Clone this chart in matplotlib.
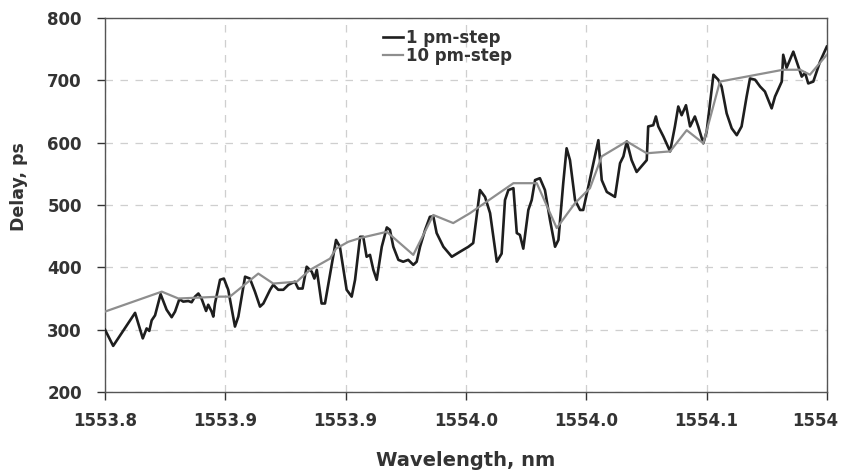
import matplotlib
matplotlib.use("Agg")
import matplotlib.pyplot as plt
import matplotlib.transforms as mtransforms

plt.rcParams['font.family'] = ['DejaVu Sans']

# 1 pm-step measurement (wavelength nm, delay ps)
wl_1pm = [1553.8000, 1553.8034, 1553.8125, 1553.8157, 1553.8173, 1553.8184, 1553.8194,
          1553.8208, 1553.8231, 1553.8256, 1553.8277, 1553.8291, 1553.8309, 1553.8325,
          1553.8346, 1553.8360, 1553.8374, 1553.8388, 1553.8402, 1553.8420, 1553.8429,
          1553.8443, 1553.8450, 1553.8457, 1553.8478, 1553.8494, 1553.8512, 1553.8540,
          1553.8554, 1553.8582, 1553.8602, 1553.8623, 1553.8644, 1553.8658, 1553.8686,
          1553.8699, 1553.8720, 1553.8741, 1553.8762, 1553.8789, 1553.8803, 1553.8821,
          1553.8838, 1553.8859, 1553.8870, 1553.8880, 1553.8900, 1553.8914, 1553.8942,
          1553.8960, 1553.8976, 1553.9004, 1553.9025, 1553.9039, 1553.9060, 1553.9073,
          1553.9087, 1553.9101, 1553.9115, 1553.9129, 1553.9150, 1553.9171, 1553.9184,
          1553.9198, 1553.9219, 1553.9239, 1553.9260, 1553.9281, 1553.9295, 1553.9309,
          1553.9330, 1553.9350, 1553.9364, 1553.9378, 1553.9406, 1553.9441, 1553.9475,
          1553.9510, 1553.9530, 1553.9558, 1553.9579, 1553.9600, 1553.9628, 1553.9648,
          1553.9662, 1553.9676, 1553.9697, 1553.9711, 1553.9724, 1553.9738, 1553.9759,
          1553.9773, 1553.9787, 1553.9807, 1553.9828, 1553.9849, 1553.9870, 1553.9884,
          1553.9904, 1553.9918, 1553.9932, 1553.9953, 1553.9974, 1553.9987, 1554.0008,
          1554.0050, 1554.0064, 1554.0085, 1554.0119, 1554.0140, 1554.0154, 1554.0168,
          1554.0188, 1554.0209, 1554.0251, 1554.0257, 1554.0278, 1554.0289, 1554.0299,
          1554.0320, 1554.0348, 1554.0368, 1554.0382, 1554.0396, 1554.0414, 1554.0431,
          1554.0451, 1554.0465, 1554.0486, 1554.0500, 1554.0528, 1554.0548, 1554.0562,
          1554.0583, 1554.0604, 1554.0625, 1554.0645, 1554.0666, 1554.0680, 1554.0701,
          1554.0722, 1554.0742, 1554.0770, 1554.0784, 1554.0812, 1554.0818, 1554.0832,
          1554.0860, 1554.0895, 1554.0909, 1554.0922, 1554.0943, 1554.0971, 1554.0999]
delay_1pm = [300, 274, 327, 286, 302, 298, 315,
             323, 357, 332, 320, 329, 349, 345,
             346, 344, 353, 358, 349, 330, 340,
             329, 321, 342, 380, 382, 364, 305,
             321, 385, 382, 361, 337, 342, 364,
             372, 364, 364, 372, 377, 366, 366,
             401, 393, 382, 396, 342, 342, 404,
             444, 433, 364, 353, 380, 449, 449,
             417, 420, 396, 380, 433, 464, 460,
             433, 412, 409, 412, 404, 409, 433,
             460, 481, 482, 455, 433, 417, 425,
             433, 439, 524, 513, 487, 409, 422,
             508, 524, 527, 455, 452, 430, 492,
             508, 540, 543, 524, 476, 433, 444,
             535, 591, 572, 508, 492, 492, 529,
             604, 540, 521, 513, 567, 578, 602,
             572, 553, 572, 626, 628, 642, 626,
             610, 586, 626, 658, 644, 660, 626,
             642, 626, 599, 618, 709, 701, 690,
             647, 623, 612, 626, 674, 703, 701,
             690, 682, 655, 674, 698, 741, 720,
             746, 706, 712, 695, 698, 730, 754]

# 10 pm-step measurement
wl_10pm = [1553.8000, 1553.8236, 1553.8305, 1553.8478, 1553.8519, 1553.8637, 1553.8699,
           1553.8797, 1553.8852, 1553.8935, 1553.8960, 1553.9011, 1553.9060, 1553.9171,
           1553.9281, 1553.9364, 1553.9447, 1553.9517, 1553.9697, 1553.9794, 1553.9877,
           1553.9953, 1554.0015, 1554.0064, 1554.0168, 1554.0251, 1554.0348, 1554.0417,
           1554.0486, 1554.0555, 1554.0818, 1554.0888, 1554.0929, 1554.0999]
delay_10pm = [329, 361, 350, 353, 353, 390, 374,
              377, 396, 414, 430, 441, 447, 457,
              420, 484, 471, 487, 535, 535, 463,
              503, 527, 578, 602, 583, 586, 620,
              599, 698, 717, 717, 709, 741]

x_ticks = [1553.80, 1553.85, 1553.90, 1553.95, 1554.00, 1554.05, 1554.10]
x_tick_labels = ["1553.8", "1553.9", "1553.9", "1554.0", "1554.0", "1554.1", "1554"]
y_ticks = [200, 300, 400, 500, 600, 700, 800]

fig = plt.figure(figsize=(8.42, 4.71), dpi=100)
ax = fig.add_axes([0.1247, 0.1677, 0.8575, 0.7941])

ax.plot(wl_1pm, delay_1pm, color='#1e1e1e', lw=1.9, label='1 pm-step', zorder=3)
ax.plot(wl_10pm, delay_10pm, color='#8e8e8e', lw=1.6, label='10 pm-step', zorder=4)

ax.set_xlim(1553.80, 1554.10)
ax.set_ylim(200, 800)
ax.set_xticks(x_ticks)
ax.set_xticklabels(x_tick_labels)
ax.set_yticks(y_ticks)
ax.tick_params(axis='both', direction='out', length=5.8, width=1, labelsize=12,
               colors='#333333')
ax.tick_params(axis='x', pad=8.6)
ax.tick_params(axis='y', pad=10.8)
for lab in ax.get_xticklabels() + ax.get_yticklabels():
    lab.set_fontweight('bold')
    lab.set_color('#333333')
# last x label sits a little left of its tick, as in the reference
last = ax.get_xticklabels()[-1]
last.set_transform(last.get_transform() +
                   mtransforms.ScaledTranslation(-11.5 / 100, 0, fig.dpi_scale_trans))

ax.grid(True, color='#cfcfcf', linestyle=(0, (6, 6)), linewidth=0.9)
ax.set_axisbelow(True)
for s in ax.spines.values():
    s.set_color('#555555')
    s.set_linewidth(1.0)

ax.set_xlabel('Wavelength, nm', fontsize=14, fontweight='bold', color='#333333', labelpad=15)
ax.set_ylabel('Delay, ps', fontsize=12.5, fontweight='bold', color='#333333')
ax.yaxis.set_label_coords(-0.1066, 0.548)

leg = ax.legend(loc='upper left', bbox_to_anchor=(0.385, 0.97), frameon=False,
                borderpad=0, borderaxespad=0,
                handlelength=1.2, handletextpad=0.2, labelspacing=0.0,
                prop={'size': 12, 'weight': 'bold'})
for t in leg.get_texts():
    t.set_color('#333333')

fig.savefig('out.png', dpi=100)
